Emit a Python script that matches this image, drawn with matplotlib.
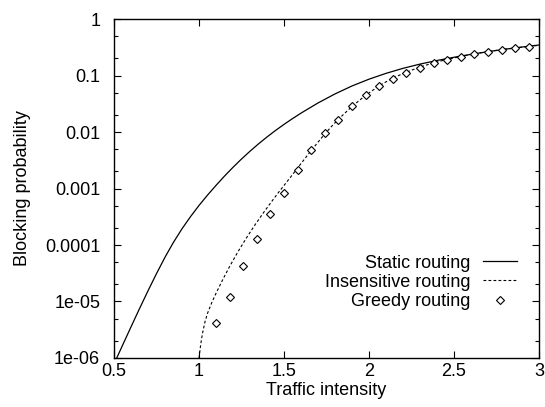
import numpy as np
import matplotlib
matplotlib.use("Agg")
import matplotlib.pyplot as plt
from matplotlib.ticker import FixedLocator, FixedFormatter, LogLocator, NullFormatter

plt.rcParams['font.family'] = ['Liberation Sans', 'DejaVu Sans']

# Static routing (log10 of blocking probability)
static_x = [0.5, 0.55, 0.6, 0.65, 0.7, 0.75, 0.8, 0.85, 0.9, 0.95, 1.0, 1.05,
            1.1, 1.15, 1.2, 1.25, 1.3, 1.35, 1.4, 1.45, 1.5, 1.55, 1.6, 1.7,
            1.8, 1.9, 2.0, 2.1, 2.2, 2.3, 2.4, 2.5, 2.6, 2.7, 2.8, 2.9, 3.0]
static_log = [-6.106, -5.776, -5.449, -5.126, -4.811, -4.506, -4.216, -3.951,
              -3.713, -3.498, -3.30, -3.117, -2.945, -2.78, -2.625, -2.478,
              -2.34, -2.21, -2.088, -1.973, -1.865, -1.763, -1.666, -1.486,
              -1.326, -1.185, -1.065, -0.962, -0.873, -0.798, -0.734, -0.677,
              -0.625, -0.578, -0.535, -0.496, -0.46]

# Insensitive routing
insens_x = [1.0, 1.01, 1.02, 1.035, 1.05, 1.075, 1.1, 1.14, 1.18, 1.23, 1.28,
            1.33, 1.38, 1.43, 1.47, 1.52, 1.565, 1.61, 1.65, 1.7, 1.74, 1.78,
            1.82, 1.86, 1.9, 1.94, 1.98, 2.06, 2.14, 2.22, 2.3, 2.38, 2.46,
            2.54, 2.62, 2.7, 2.78, 2.86, 2.94, 3.0]
insens_log = [-6.0, -5.76, -5.57, -5.36, -5.21, -5.02, -4.855, -4.61, -4.38,
              -4.115, -3.87, -3.64, -3.425, -3.22, -3.06, -2.87, -2.695, -2.52,
              -2.365, -2.18, -2.035, -1.90, -1.775, -1.66, -1.55, -1.448, -1.352,
              -1.18, -1.045, -0.94, -0.85, -0.775, -0.715, -0.663, -0.617,
              -0.577, -0.542, -0.512, -0.485, -0.466]

# Greedy routing (simulation points)
greedy_x = [1.1, 1.18, 1.26, 1.34, 1.42, 1.5, 1.58, 1.66, 1.74, 1.82, 1.9, 1.98,
            2.06, 2.14, 2.22, 2.3, 2.38, 2.46, 2.54, 2.62, 2.7, 2.78, 2.86, 2.94]
greedy_y = [4.2e-6, 1.18e-5, 4.2e-5, 1.3e-4, 3.5e-4, 8.2e-4, 2.1e-3, 4.9e-3,
            9.5e-3, 0.0165, 0.0285, 0.045, 0.066, 0.088, 0.112, 0.137, 0.164,
            0.19, 0.213, 0.237, 0.26, 0.283, 0.303, 0.324]

ytick_vals = [1e-6, 1e-5, 1e-4, 1e-3, 1e-2, 1e-1, 1]
ytick_labels = ['1e-06', '1e-05', '0.0001', '0.001', '0.01', '0.1', '1']
xtick_vals = [0.5, 1, 1.5, 2, 2.5, 3]
xtick_labels = ['0.5', '1', '1.5', '2', '2.5', '3']

fig = plt.figure(figsize=(5.45, 4.07), dpi=100)
ax = fig.add_axes([0.2092, 0.1204, 0.7798, 0.8329])

ax.plot(static_x, 10 ** np.array(static_log), color='black', lw=0.9,
        label='Static routing')
ax.plot(insens_x, 10 ** np.array(insens_log), color='black', lw=0.8,
        linestyle=(0, (2.5, 2)), label='Insensitive routing')
ax.plot(greedy_x, greedy_y, linestyle='none', marker='D', markersize=3.6,
        markerfacecolor='white', markeredgecolor='black', markeredgewidth=0.8,
        label='Greedy routing')

ax.set_yscale('log')
ax.set_xlim(0.5, 3)
ax.set_ylim(1e-6, 1)

ax.yaxis.set_major_locator(FixedLocator(ytick_vals))
ax.yaxis.set_major_formatter(FixedFormatter(ytick_labels))
ax.yaxis.set_minor_locator(LogLocator(base=10, subs=[2, 5]))
ax.yaxis.set_minor_formatter(NullFormatter())
ax.xaxis.set_major_locator(FixedLocator(xtick_vals))
ax.xaxis.set_major_formatter(FixedFormatter(xtick_labels))

ax.tick_params(which='both', direction='in', top=True, right=True,
               labelsize=13, width=0.8)
ax.tick_params(axis='x', pad=3.5)
ax.tick_params(axis='y', pad=10)
ax.tick_params(which='major', length=5)
ax.tick_params(which='minor', length=3)
for s in ax.spines.values():
    s.set_linewidth(1.0)

ax.set_xlabel('Traffic intensity', fontsize=13)
ax.set_ylabel('Blocking probability', fontsize=13)
ax.xaxis.set_label_coords(0.5, -0.07)
ax.yaxis.set_label_coords(-0.195, 0.5)

leg = ax.legend(loc='lower right', bbox_to_anchor=(0.97, 0.114), frameon=False,
                fontsize=13, markerfirst=False, handlelength=1.9,
                handletextpad=0.67, labelspacing=0.12, borderpad=0)
for t in leg.get_texts():
    t.set_ha('right')
    t.set_position((0, 0))
leg._legend_box.align = 'right'
for vp in leg._legend_box._children[1]._children:
    for c in vp._children:
        c.align = 'right'

fig.savefig('out.png', dpi=100)
